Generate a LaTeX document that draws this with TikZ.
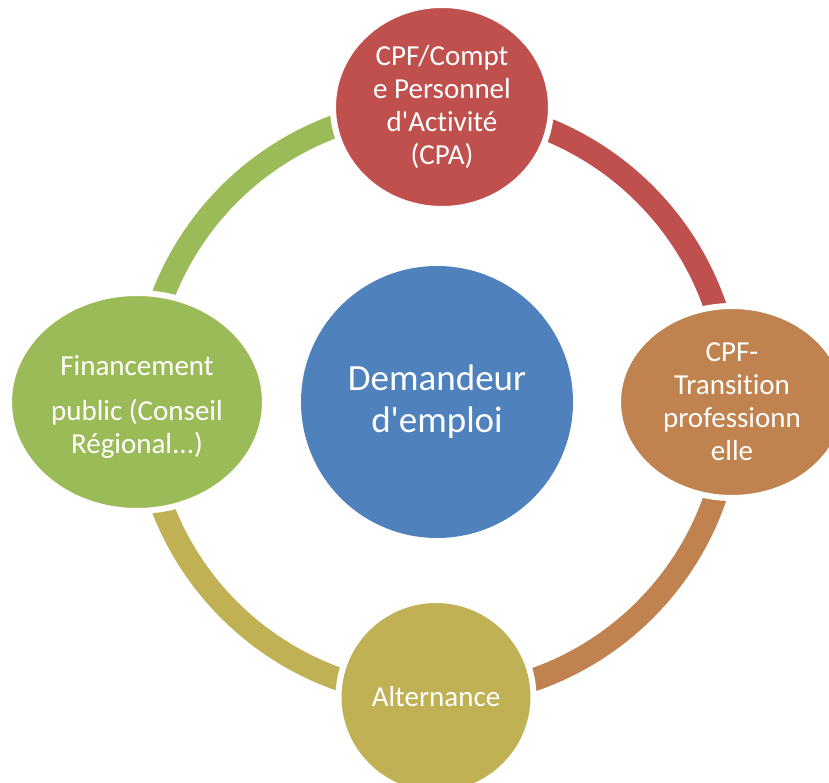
\documentclass[tikz,border=0pt]{standalone}
\usepackage{fontspec}
\setmainfont{Carlito}[Ligatures={NoCommon}]
\usetikzlibrary{shapes.geometric}
\definecolor{bleu}{HTML}{4F81BD}
\definecolor{rouge}{HTML}{C0504D}
\definecolor{orange}{HTML}{C0834F}
\definecolor{olive}{HTML}{C0B154}
\definecolor{vert}{HTML}{9BBB59}
\begin{document}
\begin{tikzpicture}[x=1pt, y=1pt, line join=round,
    bulle/.style={ellipse, fill=#1, draw=white, line width=6pt, inner sep=0pt,
        text=white, align=center, font=\fontsize{29}{33}\selectfont},
    anneau/.style={draw=#1, line width=23pt}]
    \def\R{294} % rayon de l'anneau
    \clip (0,0) rectangle (829,782);
    \coordinate (centre) at (437,380);
    % anneau
    \draw[anneau=rouge] ([shift={(89:\R)}]centre) arc[start angle=89, end angle=0, radius=\R];
    \draw[anneau=orange] ([shift={(0:\R)}]centre) arc[start angle=0, end angle=-90, radius=\R];
    \draw[anneau=olive] ([shift={(-90:\R)}]centre) arc[start angle=-90, end angle=-180, radius=\R];
    \draw[anneau=vert] ([shift={(180:\R)}]centre) arc[start angle=180, end angle=89, radius=\R];
    % bulles
    \node[bulle=bleu, circle, draw=none, minimum size=272pt,
        font=\fontsize{37}{42}\selectfont] (demandeur) at (centre)
        {Demandeur\\d\textquotesingle emploi};
    \node[bulle=rouge, minimum width=218pt, minimum height=204pt] (cpa) at (442,675)
        {CPF/Compt\\e Personnel\\d\textquotesingle Activité\\(CPA)};
    \node[bulle=orange, minimum width=228pt, minimum height=192pt] (transition) at (732,380)
        {CPF-\\Transition\\professionn\\elle};
    \node[bulle=olive, minimum width=195pt, minimum height=194pt] (alternance) at (436,85)
        {Alternance};
    \node[bulle=vert, minimum width=256pt, minimum height=218pt] (financement) at (137,380)
        {\rule{0pt}{30pt}Financement\\[12pt]public (Conseil\\Régional...)};
\end{tikzpicture}
\end{document}
